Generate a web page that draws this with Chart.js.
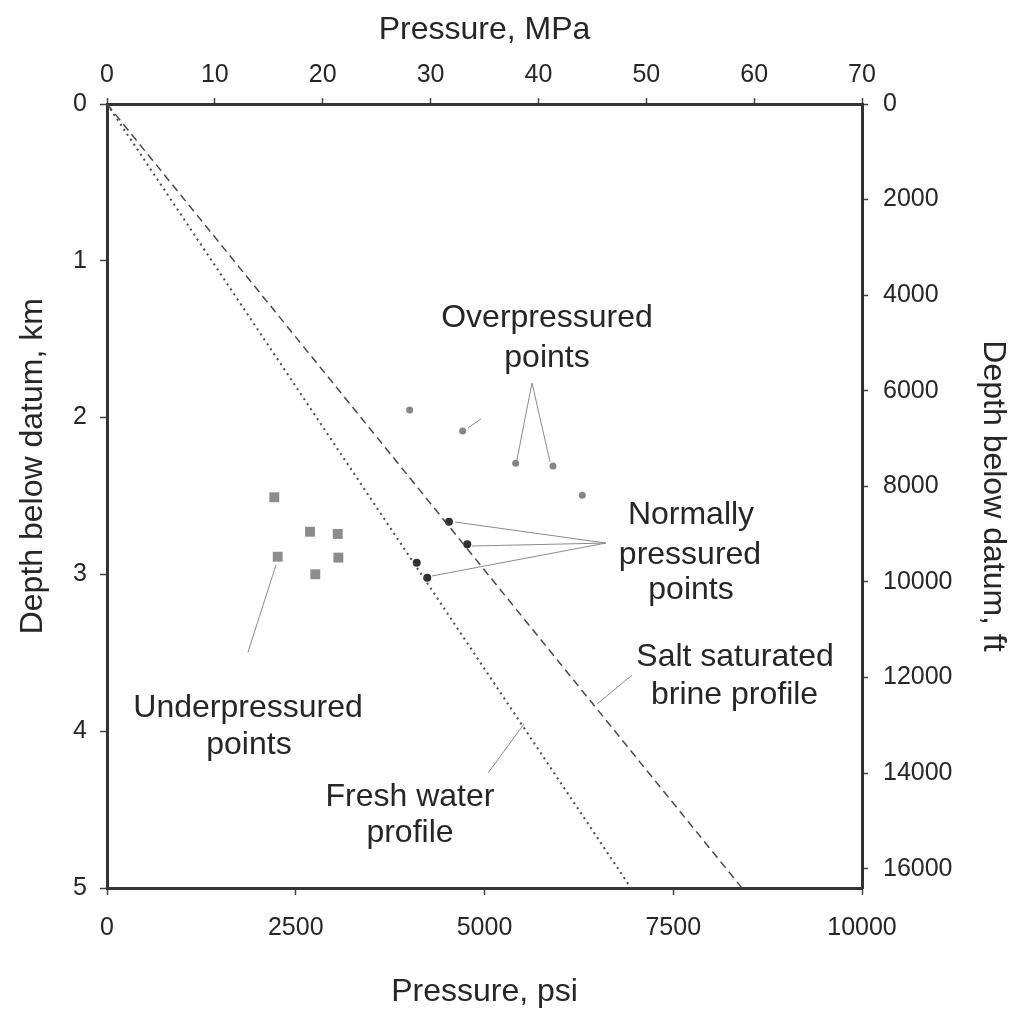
<!DOCTYPE html>
<html>
<head>
<meta charset="utf-8">
<script src="https://cdn.jsdelivr.net/npm/chart.js@4.4.1/dist/chart.umd.min.js"></script>
<style>
  body { margin:0; background:#fff; }
  #wrap { width:1010px; height:1012px; }
</style>
</head>
<body>
<div id="wrap"><canvas id="chart" width="1010" height="1012"></canvas></div>
<script>
// pressure (psi) vs depth (km)
const overPsi   = [4009, 4711, 5413, 5907, 6295];
const overKm    = [1.952, 2.085, 2.291, 2.309, 2.496];
const normalPsi = [4530, 4772, 4102, 4242];
const normalKm  = [2.664, 2.808, 2.925, 3.021];
const underPsi  = [2216, 2689, 3056, 2261, 3064, 2759];
const underKm   = [2.508, 2.728, 2.742, 2.887, 2.893, 2.999];

const brinePsi = [0, 8410];
const brineKm  = [0, 5];
const freshPsi = [0, 6940];
const freshKm  = [0, 5];

const ftTicks = [0, 2000, 4000, 6000, 8000, 10000, 12000, 14000, 16000];

// annotation text, in data units (psi, km)
const labels = [
  {text:'Overpressured', x:5828, y:1.365},
  {text:'points', x:5828, y:1.620},
  {text:'Normally', x:7735, y:2.621},
  {text:'pressured', x:7722, y:2.876},
  {text:'points', x:7735, y:3.099},
  {text:'Salt saturated', x:8318, y:3.527},
  {text:'brine profile', x:8312, y:3.769},
  {text:'Underpressured', x:1868, y:3.852},
  {text:'points', x:1880, y:4.088},
  {text:'Fresh water', x:4013, y:4.420},
  {text:'profile', x:4013, y:4.649}
];
// leader lines [x1,y1,x2,y2]
const leaders = [
  [4781, 2.066, 4954, 2.009],
  [5629, 1.779, 5430, 2.270],
  [5629, 1.779, 5868, 2.283],
  [6609, 2.800, 4609, 2.666],
  [6609, 2.800, 4834, 2.819],
  [6609, 2.800, 4305, 3.010],
  [1868, 3.495, 2238, 2.940],
  [6490, 3.827, 6954, 3.642],
  [5046, 4.267, 5523, 3.954]
];

const pts = (xs, ys) => xs.map((v,i)=>({x:v, y:ys[i]}));

const FONT = '"Liberation Sans", Arial, sans-serif';
const TXT = '#262626';

const annotate = {
  id:'annotate',
  afterDatasetsDraw(chart){
    const ctx = chart.ctx, sx = chart.scales.x, sy = chart.scales.y;
    ctx.save();
    ctx.strokeStyle = '#8a8a8a';
    ctx.lineWidth = 1;
    leaders.forEach(l=>{
      ctx.beginPath();
      ctx.moveTo(sx.getPixelForValue(l[0]), sy.getPixelForValue(l[1]));
      ctx.lineTo(sx.getPixelForValue(l[2]), sy.getPixelForValue(l[3]));
      ctx.stroke();
    });
    ctx.fillStyle = TXT;
    ctx.font = '32px ' + FONT;
    ctx.textAlign = 'center';
    ctx.textBaseline = 'middle';
    labels.forEach(t=>{
      ctx.fillText(t.text, sx.getPixelForValue(t.x), sy.getPixelForValue(t.y));
    });
    // left axis title sits a little above the middle in the original
    ctx.translate(33, sy.getPixelForValue(2.31));
    ctx.rotate(-Math.PI/2);
    ctx.fillText('Depth below datum, km', 0, 0);
    ctx.restore();
  }
};

const plain = v => String(v);
const gridOpts = { drawOnChartArea:false, drawTicks:true, tickLength:7, tickWidth:1.5, tickColor:'#444' };
const borderOpts = { display:true, color:'#333', width:3 };
const tickFont = { family:FONT, size:25 };
const titleFont = { family:FONT, size:32, lineHeight:1 };

new Chart(document.getElementById('chart').getContext('2d'), {
  type:'scatter',
  data:{
    datasets:[
      {label:'Salt saturated brine profile', data:pts(brinePsi, brineKm), showLine:true, borderColor:'#4a4a4a', borderWidth:1.5, borderDash:[8,5], pointRadius:0, fill:false},
      {label:'Fresh water profile', data:pts(freshPsi, freshKm), showLine:true, borderColor:'#4a4a4a', borderWidth:2, borderDash:[2,4], pointRadius:0, fill:false},
      {label:'Overpressured points', data:pts(overPsi, overKm), pointStyle:'circle', pointRadius:3.5, backgroundColor:'#858585', borderWidth:0},
      {label:'Normally pressured points', data:pts(normalPsi, normalKm), pointStyle:'circle', pointRadius:4, backgroundColor:'#303030', borderWidth:0},
      {label:'Underpressured points', data:pts(underPsi, underKm), pointStyle:'rect', pointRadius:7, backgroundColor:'#8c8c8c', borderWidth:0}
    ]
  },
  options:{
    responsive:false,
    animation:false,
    layout:{ padding:0 },
    plugins:{ legend:{ display:false }, tooltip:{ enabled:false } },
    scales:{
      x:{
        type:'linear', position:'bottom', min:0, max:10000,
        ticks:{ stepSize:2500, font:tickFont, color:TXT, padding:18, maxRotation:0, callback:plain },
        grid:gridOpts, border:borderOpts,
        title:{ display:true, text:'Pressure, psi', font:titleFont, color:TXT, padding:{top:0, bottom:4} },
        afterFit(s){ s.height = 124; }
      },
      x2:{
        type:'linear', axis:'x', position:'top', min:0, max:70,
        ticks:{ stepSize:10, font:tickFont, color:TXT, padding:8, maxRotation:0, callback:plain },
        grid:{ ...gridOpts, tickLength:6 }, border:borderOpts,
        title:{ display:true, text:'Pressure, MPa', font:titleFont, color:TXT, padding:{top:14, bottom:0} },
        afterFit(s){ s.height = 104; }
      },
      y:{
        type:'linear', position:'left', min:0, max:5, reverse:true,
        ticks:{ stepSize:1, font:tickFont, color:TXT, padding:13, callback:plain },
        grid:gridOpts, border:borderOpts,
        title:{ display:false },
        afterFit(s){ s.width = 107; }
      },
      y2:{
        type:'linear', axis:'y', position:'right', min:0, max:16404, reverse:true,
        afterBuildTicks(s){ s.ticks = ftTicks.map(v=>({value:v})); },
        ticks:{ font:tickFont, color:TXT, padding:15, callback:plain },
        grid:{ ...gridOpts, tickLength:6 }, border:borderOpts,
        title:{ display:true, text:'Depth below datum, ft', font:titleFont, color:TXT, padding:{top:1, bottom:0} },
        afterFit(s){ s.width = 148; }
      }
    }
  },
  plugins:[annotate]
});
</script>
</body>
</html>
